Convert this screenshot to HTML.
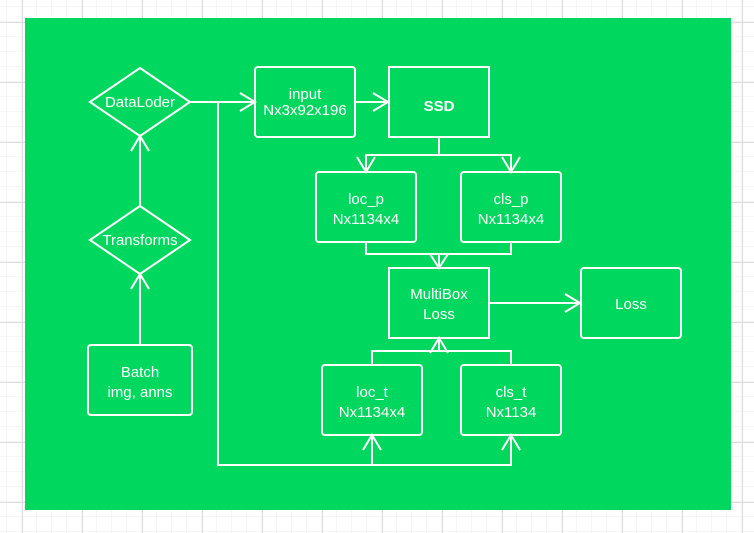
<!DOCTYPE html>
<html><head><meta charset="utf-8"><style>
html,body{margin:0;padding:0;width:754px;height:533px;overflow:hidden;background:#fff}
svg{display:block}
text{font-family:"Comic Sans MS","Liberation Sans",sans-serif;fill:#fff;text-anchor:middle;font-size:15px}
</style></head><body>
<svg width="754" height="533" viewBox="0 0 754 533">
<defs>
<pattern id="g" x="7" y="7" width="15" height="15" patternUnits="userSpaceOnUse">
<path d="M15 0V15M0 15H15" stroke="#eeeeee" stroke-width="1" fill="none"/>
</pattern>
<pattern id="G" x="22" y="22" width="60" height="60" patternUnits="userSpaceOnUse">
<path d="M0.5 0V60M0 0.5H60" stroke="#dcdcdc" stroke-width="1" fill="none"/>
</pattern>
</defs>
<rect width="754" height="533" fill="url(#g)"/>
<rect width="754" height="533" fill="url(#G)"/>
<rect x="25" y="18" width="706" height="492" fill="#00d75e"/>
<g stroke="#fff" stroke-width="2" fill="none">
<polygon points="90,102 140,68 190,102 140,136"/>
<polygon points="90,240 140,206 190,240 140,274"/>
<rect x="88" y="345" width="104" height="70" rx="3"/>
<rect x="255" y="67" width="100" height="70" rx="3"/>
<rect x="389" y="67" width="100" height="70"/>
<rect x="316" y="172" width="100" height="70" rx="3"/>
<rect x="461" y="172" width="100" height="70" rx="3"/>
<rect x="389" y="268" width="100" height="70"/>
<rect x="581" y="268" width="100" height="70" rx="3"/>
<rect x="322" y="365" width="100" height="70" rx="3"/>
<rect x="461" y="365" width="100" height="70" rx="3"/>
<path d="M140 345V274M131 289L140 274L149 289"/>
<path d="M140 206V136M131 151L140 136L149 151"/>
<path d="M190 102H255M240 93L255 102L240 111"/>
<path d="M218 102V465H511V435M372 465V435M363 450L372 435L381 450M502 450L511 435L520 450"/>
<path d="M355 102H388M373 93L388 102L373 111"/>
<path d="M439 137V155M366 172V155H511V172M357 157L366 172L375 157M502 157L511 172L520 157"/>
<path d="M366 242V254H511V242M439 254V268M430 254L439 268L448 254"/>
<path d="M489 303H580M565 294L580 303L565 312"/>
<path d="M372 365V351H511V365M439 351V338M430 353L439 338L448 353"/>
</g>
<text x="140" y="107" font-size="13">DataLoder</text>
<text x="140" y="245" font-size="13">Transforms</text>
<text x="140" y="377">Batch</text>
<text x="140" y="397">img, anns</text>
<text x="305" y="99" font-size="11">input</text>
<text x="305" y="115" font-size="12">Nx3x92x196</text>
<text x="439" y="111" font-size="22" font-weight="bold">SSD</text>
<text x="366" y="204">loc_p</text>
<text x="366" y="224">Nx1134x4</text>
<text x="511" y="204">cls_p</text>
<text x="511" y="224">Nx1134x4</text>
<text x="439" y="299">MultiBox</text>
<text x="439" y="319">Loss</text>
<text x="631" y="309">Loss</text>
<text x="372" y="397">loc_t</text>
<text x="372" y="417">Nx1134x4</text>
<text x="511" y="397">cls_t</text>
<text x="511" y="417">Nx1134</text>
</svg>
</body></html>
